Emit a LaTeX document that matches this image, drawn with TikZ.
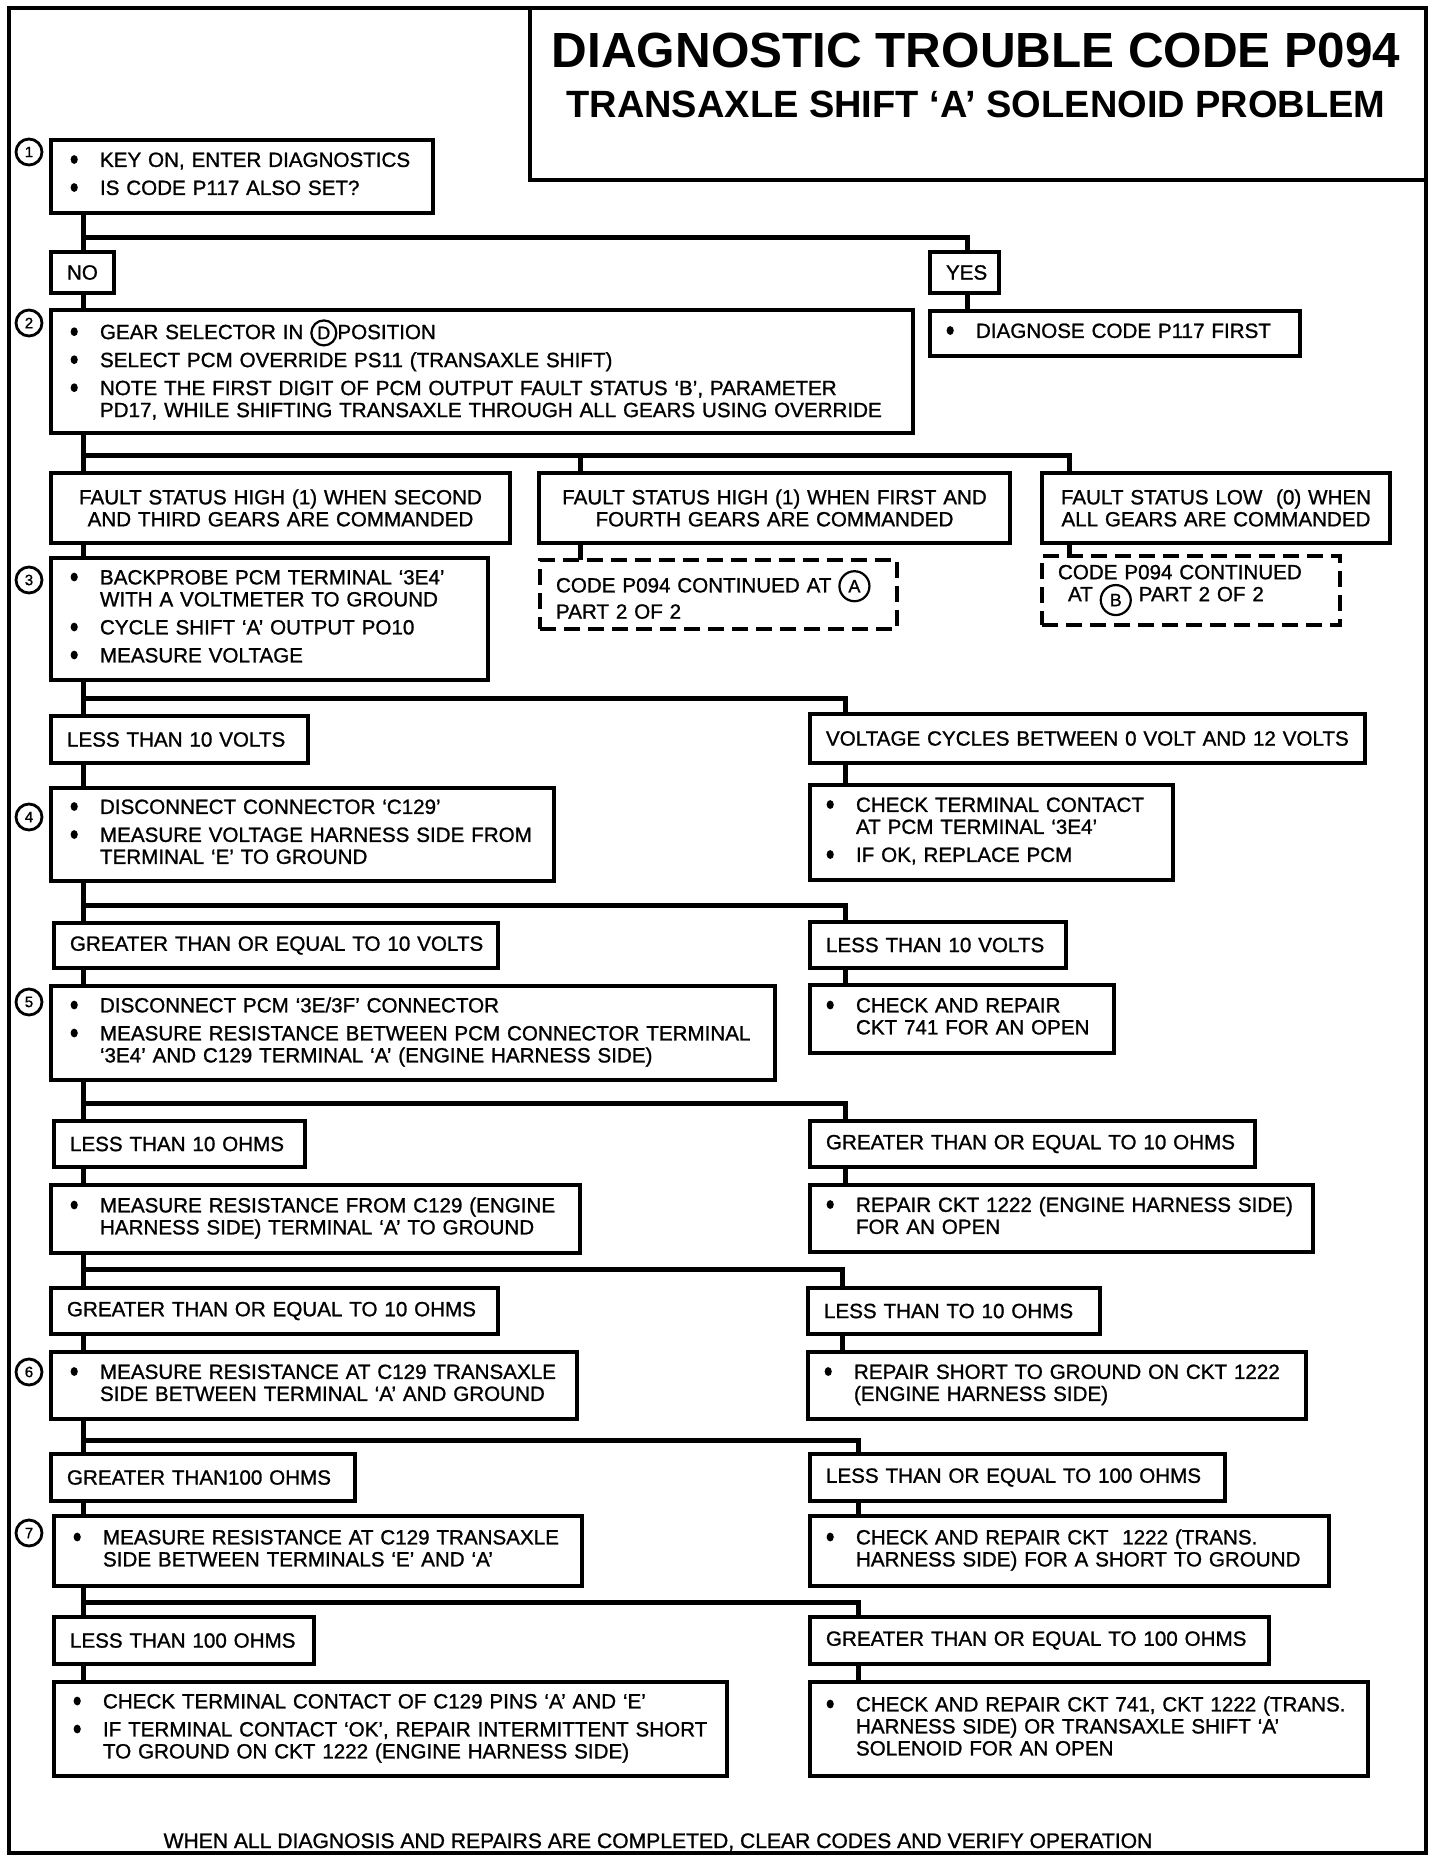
\documentclass[tikz,border=0pt]{standalone}
\usepackage{fontspec}
\setmainfont{Liberation Sans}[FakeBold=1.1]
\newfontfamily\titlefont{Liberation Sans Bold}
\newcommand\bdot{\makebox[13.5pt][l]{\hspace*{-1.2pt}\tikz[baseline=0pt]\fill[black,draw=none,solid] (1.8pt,3.7pt) ellipse [x radius=1.8pt, y radius=2.2pt];}}
\newenvironment{blist}{\begin{tabular}{@{}l@{}l@{}}}{\end{tabular}}
\newcommand\cir[2][12.5pt]{\tikz[baseline=(cl.base)]\node[draw,solid,circle,line width=1.1pt,inner sep=0pt,outer sep=0pt,minimum size=#1,anchor=center,text width={},align=center,font=\fontsize{9}{9}\selectfont](cl){#2};}
\tikzset{
  box/.style={draw, line width=1.7pt, anchor=north west, inner ysep=0pt, outer sep=0pt, font=\fontsize{10.3}{11}\selectfont},
  bbox/.style={box, inner xsep=11pt, align=left},
  rbox/.style={box, inner xsep=9.5pt, align=left},
  lbox/.style={box, inner xsep=7.5pt, align=left},
  cbox/.style={box, inner xsep=6pt, align=center},
  dbox/.style={box, dash pattern=on 8pt off 4pt, inner xsep=8pt, align=left},
  bwh/.style 2 args={minimum width=#1*0.5pt, minimum height=#2*0.5pt, text width=#1*0.5pt-22pt},
  rwh/.style 2 args={minimum width=#1*0.5pt, minimum height=#2*0.5pt, text width=#1*0.5pt-19pt},
  lwh/.style 2 args={minimum width=#1*0.5pt, minimum height=#2*0.5pt, text width=#1*0.5pt-16pt},
  cwh/.style 2 args={minimum width=#1*0.5pt, minimum height=#2*0.5pt, text width=#1*0.5pt-12pt},
  conn/.style={line width=2.5pt},
  num/.style={draw, circle, line width=1.4pt, minimum size=13pt, inner sep=0pt, font=\fontsize{7.5}{7.5}\selectfont},
}
\begin{document}
\begin{tikzpicture}[x=0.5pt,y=-0.5pt]
\useasboundingbox (0,0) rectangle (1440,1864);
\fill[white] (0,0) rectangle (1440,1864);
\draw[line width=1.6pt] (9,8) rectangle (1426,1853);
% title
\node[draw, line width=1.7pt, anchor=north west, minimum width=448pt, minimum height=86pt, inner sep=0pt, outer sep=0pt] (titlebox) at (530,8) {};
\node[font=\fontsize{24.7}{25}\titlefont] (title1) at (976,50) {DIAGNOSTIC TROUBLE CODE P094};
\node[font=\fontsize{19}{20}\titlefont] (title2) at (976,104) {TRANSAXLE SHIFT ‘A’ SOLENOID PROBLEM};
% spines
\coordinate (L) at (83,0);
\coordinate (Y) at (967,0);
\coordinate (M) at (580,0);
\coordinate (R3) at (1069,0);
\coordinate (R) at (845,0);
\coordinate (Ra) at (842,0);
\coordinate (Rb) at (858,0);
% step numbers
\node[num] (n1) at (29,152) {1};
\node[num] (n2) at (29,323) {2};
\node[num] (n3) at (29,580) {3};
\node[num] (n4) at (29,817) {4};
\node[num] (n5) at (29,1002) {5};
\node[num] (n6) at (29,1372) {6};
\node[num] (n7) at (29,1533) {7};
% boxes
\node[bbox, bwh={382}{73}] (s1) at (51,140) {\begin{blist}
\bdot & KEY ON, ENTER DIAGNOSTICS\\[3pt]
\bdot & IS CODE P117 ALSO SET?
\end{blist}};
\node[lbox, lwh={63}{41}, inner xsep=7pt] (no) at (51,252) {\mbox{NO}};
\node[lbox, lwh={69}{41}, inner xsep=7pt] (yes) at (930,252) {\mbox{YES}};
\node[bbox, bwh={862}{123}] (s2) at (51,310) {\begin{blist}
\bdot & GEAR SELECTOR IN \cir{D}POSITION\\[3pt]
\bdot & SELECT PCM OVERRIDE PS11 (TRANSAXLE SHIFT)\\[3pt]
\bdot & NOTE THE FIRST DIGIT OF PCM OUTPUT FAULT STATUS `B', PARAMETER\\
 & PD17, WHILE SHIFTING TRANSAXLE THROUGH ALL GEARS USING OVERRIDE
\end{blist}};
\node[rbox, rwh={370}{45}] (yes2) at (930,311) {\begin{blist}
\bdot & DIAGNOSE CODE P117 FIRST
\end{blist}};
\node[cbox, cwh={459}{70}] (fA) at (51,473) {FAULT STATUS HIGH (1) WHEN SECOND\\AND THIRD GEARS ARE COMMANDED};
\node[cbox, cwh={471}{70}] (fB) at (539,473) {FAULT STATUS HIGH (1) WHEN FIRST AND\\FOURTH GEARS ARE COMMANDED};
\node[cbox, cwh={348}{70}] (fC) at (1042,473) {FAULT STATUS LOW\ \ (0) WHEN\\ALL GEARS ARE COMMANDED};
\node[bbox, bwh={437}{122}] (s3) at (51,558) {\begin{blist}
\bdot & BACKPROBE PCM TERMINAL `3E4'\\
 & WITH A VOLTMETER TO GROUND\\[3pt]
\bdot & CYCLE SHIFT `A' OUTPUT PO10\\[3pt]
\bdot & MEASURE VOLTAGE
\end{blist}};
\node[dbox, lwh={357}{69}] (dA) at (540,560) {CODE P094 CONTINUED AT \cir[15pt]{A}\\PART 2 OF 2};
\node[dbox, lwh={298}{69}] (dB) at (1042,556) {CODE P094 CONTINUED\\\hspace*{5pt}AT \raisebox{-2.5pt}{\cir[15pt]{B}} PART 2 OF 2};
\node[lbox, lwh={257}{47}] (v1) at (51,716) {\mbox{LESS THAN 10 VOLTS}};
\node[lbox, lwh={555}{49}] (v2) at (810,714) {\mbox{VOLTAGE CYCLES BETWEEN 0 VOLT AND 12 VOLTS}};
\node[bbox, bwh={503}{93}] (s4) at (51,788) {\begin{blist}
\bdot & DISCONNECT CONNECTOR `C129'\\[3pt]
\bdot & MEASURE VOLTAGE HARNESS SIDE FROM\\
 & TERMINAL `E' TO GROUND
\end{blist}};
\node[rbox, rwh={363}{95}] (r4) at (810,785) {\begin{blist}
\bdot & CHECK TERMINAL CONTACT\\
 & AT PCM TERMINAL `3E4'\\[3pt]
\bdot & IF OK, REPLACE PCM
\end{blist}};
\node[lbox, lwh={444}{45}] (g5) at (54,923) {\mbox{GREATER THAN OR EQUAL TO 10 VOLTS}};
\node[lbox, lwh={256}{46}] (l5) at (810,922) {\mbox{LESS THAN 10 VOLTS}};
\node[bbox, bwh={724}{94}] (s5) at (51,986) {\begin{blist}
\bdot & DISCONNECT PCM `3E/3F' CONNECTOR\\[3pt]
\bdot & MEASURE RESISTANCE BETWEEN PCM CONNECTOR TERMINAL\\
 & `3E4' AND C129 TERMINAL `A' (ENGINE HARNESS SIDE)
\end{blist}};
\node[rbox, rwh={304}{68}] (r5) at (810,985) {\begin{blist}
\bdot & CHECK AND REPAIR\\
 & CKT 741 FOR AN OPEN
\end{blist}};
\node[lbox, lwh={251}{46}] (l6) at (54,1121) {\mbox{LESS THAN 10 OHMS}};
\node[lbox, lwh={445}{46}] (g6) at (810,1121) {\mbox{GREATER THAN OR EQUAL TO 10 OHMS}};
\node[bbox, bwh={529}{68}] (m6) at (51,1185) {\begin{blist}
\bdot & MEASURE RESISTANCE FROM C129 (ENGINE\\
 & HARNESS SIDE) TERMINAL `A' TO GROUND
\end{blist}};
\node[rbox, rwh={503}{67}] (r6) at (810,1185) {\begin{blist}
\bdot & REPAIR CKT 1222 (ENGINE HARNESS SIDE)\\
 & FOR AN OPEN
\end{blist}};
\node[lbox, lwh={447}{46}] (g7) at (51,1288) {\mbox{GREATER THAN OR EQUAL TO 10 OHMS}};
\node[lbox, lwh={292}{46}] (l7) at (808,1288) {\mbox{LESS THAN TO 10 OHMS}};
\node[bbox, bwh={526}{67}] (s6) at (51,1352) {\begin{blist}
\bdot & MEASURE RESISTANCE AT C129 TRANSAXLE\\
 & SIDE BETWEEN TERMINAL `A' AND GROUND
\end{blist}};
\node[rbox, rwh={498}{67}] (r6b) at (808,1352) {\begin{blist}
\bdot & REPAIR SHORT TO GROUND ON CKT 1222\\
 & (ENGINE HARNESS SIDE)
\end{blist}};
\node[lbox, lwh={304}{47}] (g8) at (51,1454) {\mbox{GREATER THAN100 OHMS}};
\node[lbox, lwh={415}{47}] (l8) at (810,1454) {\mbox{LESS THAN OR EQUAL TO 100 OHMS}};
\node[bbox, bwh={528}{70}] (s7) at (54,1516) {\begin{blist}
\bdot & MEASURE RESISTANCE AT C129 TRANSAXLE\\
 & SIDE BETWEEN TERMINALS `E' AND `A'
\end{blist}};
\node[rbox, rwh={519}{70}] (r7) at (810,1516) {\begin{blist}
\bdot & CHECK AND REPAIR CKT\ \ 1222 (TRANS.\\
 & HARNESS SIDE) FOR A SHORT TO GROUND
\end{blist}};
\node[lbox, lwh={260}{47}] (l9) at (54,1617) {\mbox{LESS THAN 100 OHMS}};
\node[lbox, lwh={459}{47}] (g9) at (810,1617) {\mbox{GREATER THAN OR EQUAL TO 100 OHMS}};
\node[bbox, bwh={673}{94}] (bl) at (54,1682) {\begin{blist}
\bdot & CHECK TERMINAL CONTACT OF C129 PINS `A' AND `E'\\[3pt]
\bdot & IF TERMINAL CONTACT `OK', REPAIR INTERMITTENT SHORT\\
 & TO GROUND ON CKT 1222 (ENGINE HARNESS SIDE)
\end{blist}};
\node[rbox, rwh={558}{94}] (br) at (810,1682) {\begin{blist}
\bdot & CHECK AND REPAIR CKT 741, CKT 1222 (TRANS.\\
 & HARNESS SIDE) OR TRANSAXLE SHIFT `A'\\
 & SOLENOID FOR AN OPEN
\end{blist}};
\node[font=\fontsize{10.55}{11}\selectfont] (foot) at (658,1842) {WHEN ALL DIAGNOSIS AND REPAIRS ARE COMPLETED, CLEAR CODES AND VERIFY OPERATION};
% horizontal levels
\coordinate (h1) at (0,237);
\coordinate (h2) at (0,455);
\coordinate (h3) at (0,698);
\coordinate (h4) at (0,905);
\coordinate (h5) at (0,1103);
\coordinate (h6) at (0,1269);
\coordinate (h7) at (0,1440);
\coordinate (h8) at (0,1602);
% connectors
\draw[conn] (s1.south -| L) -- (L |- h1) -| (yes.north -| Y);
\draw[conn] (L |- h1) -- (no.north -| L);
\draw[conn] (no.south -| L) -- (s2.north -| L);
\draw[conn] (yes.south -| Y) -- (yes2.north -| Y);
\draw[conn] (s2.south -| L) -- (L |- h2) -| (fC.north -| R3);
\draw[conn] (L |- h2) -- (fA.north -| L);
\draw[conn] (M |- h2) -- (fB.north -| M);
\draw[conn] (fA.south -| L) -- (s3.north -| L);
\draw[conn] (fB.south -| M) -- (dA.north -| M);
\draw[conn] (fC.south -| R3) -- (dB.north -| R3);
\draw[conn] (s3.south -| L) -- (L |- h3) -| (v2.north -| R);
\draw[conn] (L |- h3) -- (v1.north -| L);
\draw[conn] (v1.south -| L) -- (s4.north -| L);
\draw[conn] (v2.south -| R) -- (r4.north -| R);
\draw[conn] (s4.south -| L) -- (L |- h4) -| (l5.north -| R);
\draw[conn] (L |- h4) -- (g5.north -| L);
\draw[conn] (g5.south -| L) -- (s5.north -| L);
\draw[conn] (l5.south -| R) -- (r5.north -| R);
\draw[conn] (s5.south -| L) -- (L |- h5) -| (g6.north -| R);
\draw[conn] (L |- h5) -- (l6.north -| L);
\draw[conn] (l6.south -| L) -- (m6.north -| L);
\draw[conn] (g6.south -| R) -- (r6.north -| R);
\draw[conn] (m6.south -| L) -- (L |- h6) -| (l7.north -| Ra);
\draw[conn] (L |- h6) -- (g7.north -| L);
\draw[conn] (g7.south -| L) -- (s6.north -| L);
\draw[conn] (l7.south -| Ra) -- (r6b.north -| Ra);
\draw[conn] (s6.south -| L) -- (L |- h7) -| (l8.north -| Rb);
\draw[conn] (L |- h7) -- (g8.north -| L);
\draw[conn] (g8.south -| L) -- (s7.north -| L);
\draw[conn] (l8.south -| Rb) -- (r7.north -| Rb);
\draw[conn] (s7.south -| L) -- (L |- h8) -| (g9.north -| Rb);
\draw[conn] (L |- h8) -- (l9.north -| L);
\draw[conn] (l9.south -| L) -- (bl.north -| L);
\draw[conn] (g9.south -| Rb) -- (br.north -| Rb);
\end{tikzpicture}
\end{document}
